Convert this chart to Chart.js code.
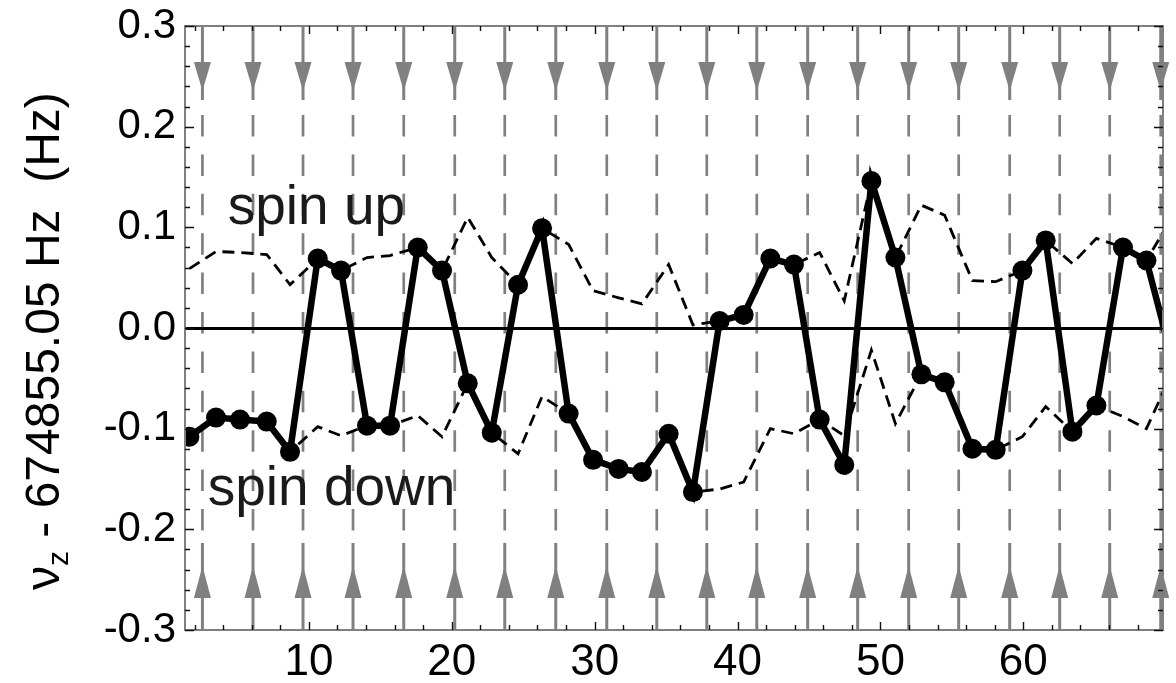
<!DOCTYPE html>
<html>
<head>
<meta charset="utf-8">
<title>Axial frequency vs. spin flips</title>
<script src="https://cdn.jsdelivr.net/npm/chart.js@4.4.1/dist/chart.umd.min.js"></script>
<style>
  html, body { margin: 0; padding: 0; background: #fff; }
  #wrap { width: 1176px; height: 683px; }
</style>
</head>
<body>
<div id="wrap"><canvas id="c" width="1176" height="683"></canvas></div>
<script>
// Measurement times (x) of each axial-frequency determination
const measureX = [1.64, 3.50, 5.18, 7.05, 8.68, 10.62, 12.25, 14.07, 15.68, 17.62,
                  19.32, 21.12, 22.80, 24.64, 26.32, 28.18, 29.89, 31.68, 33.31, 35.18,
                  36.88, 38.75, 40.43, 42.30, 43.95, 45.75, 47.47, 49.37, 51.05, 52.87,
                  54.50, 56.44, 58.07, 59.94, 61.57, 63.44, 65.12, 66.98, 68.62, 70.40];

// Axial frequency offset from 674855.05 Hz (Hz)
const nuZ = [-0.108, -0.089, -0.091, -0.093, -0.123, 0.069, 0.057, -0.097, -0.097, 0.080,
             0.057, -0.055, -0.104, 0.043, 0.099, -0.085, -0.131, -0.140, -0.143, -0.105,
             -0.163, 0.007, 0.013, 0.069, 0.063, -0.091, -0.136, 0.146, 0.070, -0.046,
             -0.054, -0.120, -0.121, 0.057, 0.087, -0.103, -0.077, 0.080, 0.067, -0.030];

// Spin-up reference level
const spinUpLevel = [0.059, 0.076, 0.075, 0.073, 0.043, 0.069, 0.057, 0.070, 0.072, 0.080,
                     0.057, 0.110, 0.070, 0.043, 0.099, 0.083, 0.037, 0.030, 0.024, 0.063,
                     0.003, 0.007, 0.013, 0.069, 0.063, 0.075, 0.027, 0.146, 0.070, 0.122,
                     0.112, 0.047, 0.046, 0.057, 0.087, 0.064, 0.089, 0.080, 0.067, 0.110];

// Spin-down reference level
const spinDownLevel = [-0.108, -0.089, -0.091, -0.093, -0.123, -0.098, -0.107, -0.097, -0.097, -0.087,
                       -0.108, -0.055, -0.104, -0.125, -0.068, -0.085, -0.131, -0.140, -0.143, -0.105,
                       -0.163, -0.160, -0.153, -0.100, -0.105, -0.091, -0.107, -0.022, -0.095, -0.046,
                       -0.054, -0.120, -0.121, -0.108, -0.078, -0.103, -0.077, -0.088, -0.100, -0.045];

// Times of the spin-flip attempts (vertical arrows)
const flipX = [2.55, 6.09, 9.59, 13.09, 16.64, 20.21, 23.71, 27.28, 30.85, 34.35,
               37.85, 41.35, 44.91, 48.41, 51.98, 55.48, 59.05, 62.55, 66.05, 69.62];

const xTickValues = [10, 20, 30, 40, 50, 60];
const yTickValues = [-0.3, -0.2, -0.1, 0.0, 0.1, 0.2, 0.3];

const X_MIN = 1.33, X_MAX = 69.78;
const Y_MIN = -0.3, Y_MAX = 0.3;

const FONT = "'Liberation Sans', Arial, Helvetica, sans-serif";
const GRAY = '#808080';

const pts = ys => measureX.map((x, i) => ({ x, y: ys[i] }));

// Vertical flip markers: arrows at the top and bottom joined by a dashed gray line
const flipArrows = {
  id: 'flipArrows',
  beforeDraw(chart) {
    const { ctx, chartArea: a, scales: { x } } = chart;
    ctx.save();
    ctx.strokeStyle = GRAY;
    ctx.fillStyle = GRAY;
    flipX.forEach(v => {
      const px = x.getPixelForValue(v);
      ctx.lineWidth = 3;
      ctx.setLineDash([]);
      // top shaft
      ctx.beginPath();
      ctx.moveTo(px, a.top);
      ctx.lineTo(px, a.top + 74);
      ctx.stroke();
      // downward head
      ctx.beginPath();
      ctx.moveTo(px - 8.5, a.top + 36);
      ctx.lineTo(px + 8.5, a.top + 36);
      ctx.lineTo(px, a.top + 65);
      ctx.closePath();
      ctx.fill();
      // bottom shaft
      ctx.beginPath();
      ctx.moveTo(px, a.bottom - 87);
      ctx.lineTo(px, a.bottom);
      ctx.stroke();
      // upward head
      ctx.beginPath();
      ctx.moveTo(px - 8.5, a.bottom - 32);
      ctx.lineTo(px + 8.5, a.bottom - 32);
      ctx.lineTo(px, a.bottom - 64);
      ctx.closePath();
      ctx.fill();
      // dashed middle
      ctx.lineWidth = 2.7;
      ctx.setLineDash([21.5, 17.9]);
      ctx.beginPath();
      ctx.moveTo(px, a.top + 89);
      ctx.lineTo(px, a.bottom - 87);
      ctx.stroke();
    });
    ctx.restore();
  }
};

// Frame, inward tick marks, state labels and the rotated axis title
const frameAndText = {
  id: 'frameAndText',
  afterDraw(chart) {
    const { ctx, chartArea: a, scales: { x, y } } = chart;
    ctx.save();

    // state labels
    ctx.fillStyle = '#1a1a1a';
    ctx.font = `55px ${FONT}`;
    ctx.textAlign = 'left';
    ctx.textBaseline = 'alphabetic';
    ctx.fillText('spin up', x.getPixelForValue(4.32), y.getPixelForValue(0.103));
    ctx.fillText('spin down', x.getPixelForValue(2.92), y.getPixelForValue(-0.176));

    // frame
    ctx.strokeStyle = GRAY;
    ctx.lineWidth = 2;
    ctx.strokeRect(a.left, a.top, a.right - a.left, a.bottom - a.top);

    // ticks
    ctx.strokeStyle = '#111';
    ctx.lineWidth = 1.4;
    ctx.beginPath();
    for (let v = 2; v < X_MAX; v += 2) {
      const px = Math.round(x.getPixelForValue(v)) + 0.5;
      const len = v % 10 === 0 ? 8 : 5;
      ctx.moveTo(px, a.top); ctx.lineTo(px, a.top + len);
      ctx.moveTo(px, a.bottom); ctx.lineTo(px, a.bottom - len);
    }
    for (let k = -15; k <= 15; k++) {
      const py = Math.round(y.getPixelForValue(k * 0.02)) + 0.5;
      const len = k % 5 === 0 ? 9 : 5;
      ctx.moveTo(a.left, py); ctx.lineTo(a.left + len, py);
      ctx.moveTo(a.right, py); ctx.lineTo(a.right - len, py);
    }
    ctx.stroke();

    // y-axis title
    ctx.fillStyle = '#000';
    ctx.translate(59, 590);
    ctx.rotate(-Math.PI / 2);
    ctx.textAlign = 'left';
    ctx.font = `48px ${FONT}`;
    ctx.fillText('\u03bd', 0, 0);
    let off = ctx.measureText('\u03bd').width;
    ctx.font = `30px ${FONT}`;
    ctx.fillText('z', off, 9);
    off += ctx.measureText('z').width;
    ctx.font = `48px ${FONT}`;
    ctx.fillText(' - 674855.05 Hz  (Hz)', off, 0);
    ctx.restore();
  }
};

new Chart(document.getElementById('c'), {
  type: 'line',
  data: {
    datasets: [
      {
        label: 'nu_z',
        data: pts(nuZ),
        borderColor: '#000',
        backgroundColor: '#000',
        borderWidth: 6.5,
        pointRadius: 10,
        pointBorderWidth: 0,
        pointBackgroundColor: '#000',
        tension: 0,
        clip: 0
      },
      {
        label: 'spin up',
        data: pts(spinUpLevel),
        borderColor: '#000',
        borderWidth: 2.8,
        borderDash: [12, 7],
        pointRadius: 0,
        tension: 0,
        clip: 0
      },
      {
        label: 'spin down',
        data: pts(spinDownLevel),
        borderColor: '#000',
        borderWidth: 2.8,
        borderDash: [12, 7],
        pointRadius: 0,
        tension: 0,
        clip: 0
      }
    ]
  },
  options: {
    responsive: false,
    animation: false,
    devicePixelRatio: 1,
    events: [],
    layout: { padding: { left: 0, right: 13, top: 26, bottom: 0 } },
    plugins: { legend: { display: false }, tooltip: { enabled: false } },
    scales: {
      x: {
        type: 'linear',
        min: X_MIN,
        max: X_MAX,
        afterBuildTicks: s => { s.ticks = xTickValues.map(v => ({ value: v })); },
        afterFit: s => { s.height = 53; s.paddingLeft = 0; s.paddingRight = 0; },
        ticks: { color: '#000', font: { family: FONT, size: 44 }, padding: 6, maxRotation: 0, autoSkip: false },
        grid: { display: false, drawTicks: false },
        border: { display: false }
      },
      y: {
        type: 'linear',
        min: Y_MIN,
        max: Y_MAX,
        afterBuildTicks: s => { s.ticks = yTickValues.map(v => ({ value: v })); },
        afterFit: s => { s.width = 185; s.paddingTop = 0; s.paddingBottom = 0; },
        ticks: {
          color: '#000',
          font: { family: FONT, size: 42 },
          padding: 9,
          callback: v => Number(v).toFixed(1)
        },
        grid: {
          drawTicks: false,
          lineWidth: 3,
          color: c => (c.tick && c.tick.value === 0 ? '#000' : 'rgba(0,0,0,0)')
        },
        border: { display: false }
      }
    }
  },
  plugins: [flipArrows, frameAndText]
});
</script>
</body>
</html>
